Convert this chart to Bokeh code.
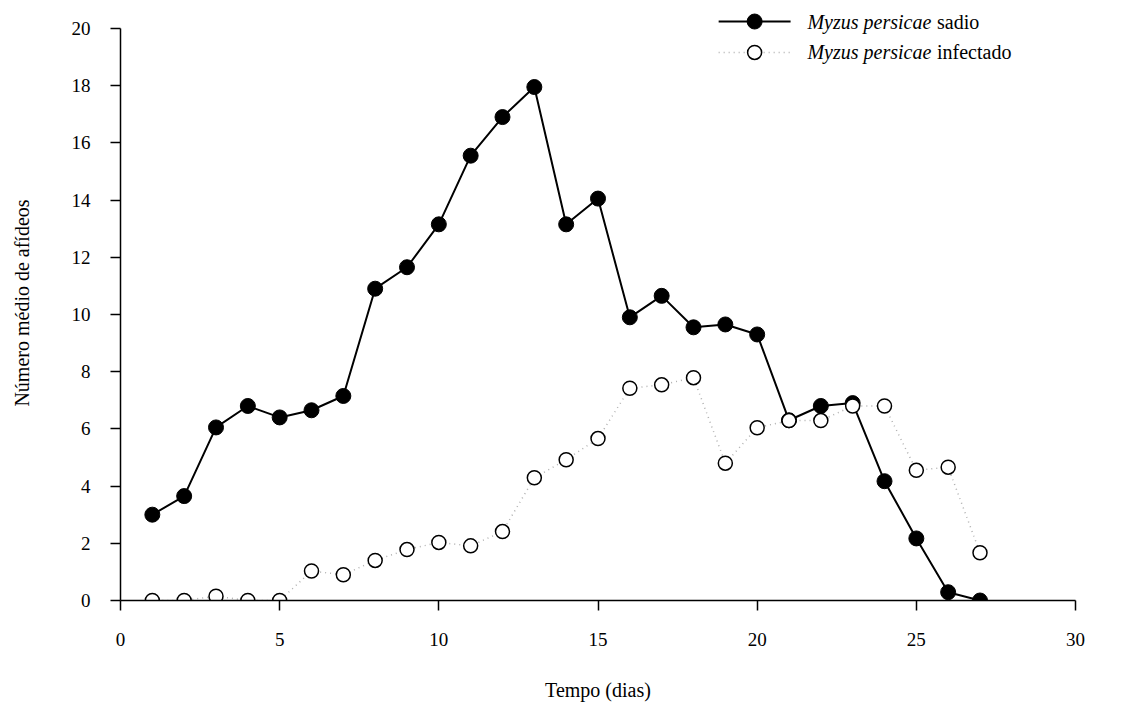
from bokeh.plotting import figure
from bokeh.models import Range1d, FixedTicker, Label
from bokeh.embed import file_html
from bokeh.resources import INLINE

# ---- data ----
dias = list(range(1, 28))
sadio = [3.0, 3.65, 6.05, 6.8, 6.4, 6.65, 7.15, 10.9, 11.65, 13.15, 15.55, 16.9, 17.95,
         13.15, 14.05, 9.9, 10.65, 9.55, 9.65, 9.3, 6.3, 6.8, 6.9, 4.17, 2.17, 0.29, 0.0]
infectado = [0.0, 0.0, 0.15, 0.0, 0.0, 1.03, 0.9, 1.4, 1.78, 2.03, 1.91, 2.41, 4.29,
             4.92, 5.66, 7.42, 7.54, 7.79, 4.8, 6.04, 6.29, 6.29, 6.8, 6.8, 4.55, 4.66, 1.67]
x_ticks = [0, 5, 10, 15, 20, 25, 30]
y_ticks = [0, 2, 4, 6, 8, 10, 12, 14, 16, 18, 20]
serie1_nome = ("Myzus persicae", "sadio")
serie2_nome = ("Myzus persicae", "infectado")
x_titulo = "Tempo (dias)"
y_titulo = "Número médio de afídeos"

FONT = "Liberation Serif"

p = figure(width=1142, height=705, output_backend="svg", toolbar_location=None,
           x_range=Range1d(0, 30), y_range=Range1d(0, 20.8),
           min_border_left=120, min_border_right=67, min_border_top=5, min_border_bottom=105)
p.outline_line_color = None
p.grid.visible = False
p.background_fill_color = "white"
p.border_fill_color = "white"

for ax in (p.xaxis[0], p.yaxis[0]):
    ax.axis_line_color = "black"
    ax.axis_line_width = 1.5
    ax.major_tick_line_color = "black"
    ax.major_tick_line_width = 1.5
    ax.major_tick_out = 10
    ax.major_tick_in = 0
    ax.minor_tick_line_color = None
    ax.major_label_text_font = FONT
    ax.major_label_text_font_size = "19px"
    ax.major_label_text_color = "black"
    ax.axis_label_text_font = FONT
    ax.axis_label_text_font_size = "20px"
    ax.axis_label_text_font_style = "normal"
    ax.axis_label_text_color = "black"

p.xaxis.ticker = FixedTicker(ticks=x_ticks)
p.yaxis.ticker = FixedTicker(ticks=y_ticks)
p.yaxis.bounds = (0, 20)
p.xaxis.major_label_standoff = 22
p.yaxis.major_label_standoff = 20
p.xaxis.axis_label = x_titulo
p.xaxis.axis_label_standoff = 30
p.yaxis.axis_label = y_titulo
p.yaxis.axis_label_standoff = 36

# ---- series ----
p.line(dias, sadio, line_color="black", line_width=2)
p.line(dias, infectado, line_color="#b0b0b0", line_width=1.5, line_dash="1 4")
p.scatter(dias, sadio, size=15, marker="circle", fill_color="black", line_color="black")
p.scatter(dias, infectado, size=14, marker="circle", fill_color="white",
          line_color="black", line_width=1.5)

# ---- legend (manual, to allow italic species name) ----
lx0, lx1, lxm = 18.79, 21.05, 19.92
ly1, ly2 = 20.24, 19.16
p.line([lx0, lx1], [ly1, ly1], line_color="black", line_width=2)
p.scatter([lxm], [ly1], size=15, marker="circle", fill_color="black", line_color="black")
p.line([lx0, lx1], [ly2, ly2], line_color="#b0b0b0", line_width=1.5, line_dash="1 4")
p.scatter([lxm], [ly2], size=14, marker="circle", fill_color="white",
          line_color="black", line_width=1.5)

tx_it = 21.58
tx_rest = 25.65
for (it, rest), yy in ((serie1_nome, ly1), (serie2_nome, ly2)):
    p.add_layout(Label(x=tx_it, y=yy, text=it, text_font=FONT, text_font_size="20px",
                       text_font_style="italic", text_baseline="middle", text_color="black"))
    p.add_layout(Label(x=tx_rest, y=yy, text=rest, text_font=FONT, text_font_size="20px",
                       text_baseline="middle", text_color="black"))

open("out.html", "w").write(file_html(p, INLINE))
